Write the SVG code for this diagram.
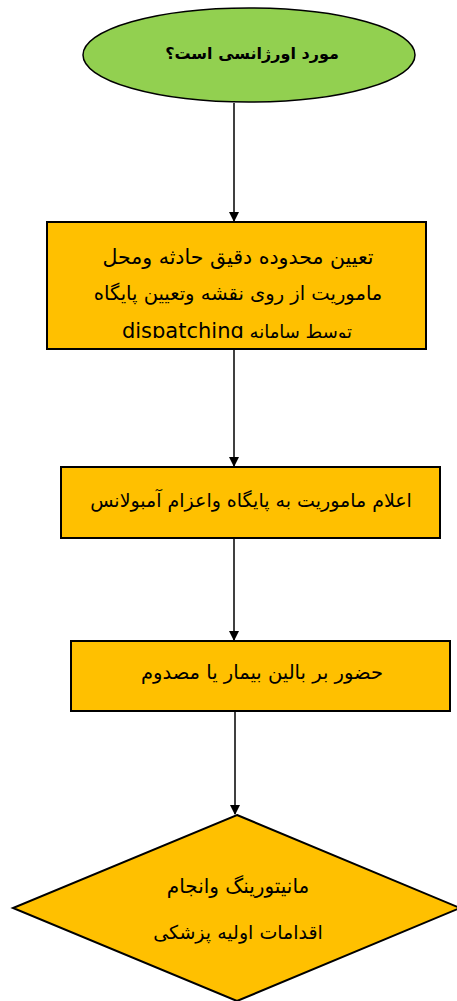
<svg xmlns="http://www.w3.org/2000/svg" width="457" height="1001" viewBox="0 0 457 1001">
<style>
.box{fill:#FFC000;stroke:#000;stroke-width:2}
.t{font-family:"DejaVu Sans","Noto Sans",sans-serif;font-size:19.5px;fill:#000;text-anchor:middle;direction:rtl}
.c{stroke:#000;stroke-width:1.5;fill:none}
</style>
<defs>
<marker id="ah" markerWidth="10" markerHeight="10" refX="9" refY="5" orient="auto" markerUnits="userSpaceOnUse">
<path d="M0,0 L10,5 L0,10 Z" fill="#000"/>
</marker>
<clipPath id="clip1"><rect x="47" y="222" width="379" height="116"/></clipPath>
</defs>
<g id="connectors">
<line class="c" x1="234" y1="103" x2="234" y2="221" marker-end="url(#ah)"/>
<line class="c" x1="234" y1="349" x2="234" y2="466" marker-end="url(#ah)"/>
<line class="c" x1="234" y1="538" x2="234" y2="640" marker-end="url(#ah)"/>
<line class="c" x1="235" y1="711" x2="235" y2="814" marker-end="url(#ah)"/>
</g>
<g id="n1">
<ellipse cx="249" cy="55" rx="166" ry="47" fill="#92D050" stroke="#000" stroke-width="1.5"/>
<text class="t" x="252" y="59" style="font-weight:bold;font-size:16px">مورد اورژانسی است؟</text>
</g>
<g id="n2">
<rect class="box" x="47" y="222" width="379" height="127"/>
<text class="t" x="238" y="264" style="font-size:20.5px">تعیین محدوده دقیق حادثه ومحل</text>
<text class="t" x="238" y="300">ماموریت از روی نقشه وتعیین پایگاه</text>
<text class="t" x="237" y="338" clip-path="url(#clip1)" style="font-size:18px">توسط سامانه <tspan style="font-size:21px">dispatching</tspan></text>
</g>
<g id="n3">
<rect class="box" x="61" y="467" width="379" height="71"/>
<text class="t" x="251" y="507" style="font-size:19px">اعلام ماموریت به پایگاه واعزام آمبولانس</text>
</g>
<g id="n4">
<rect class="box" x="71" y="641" width="379" height="70"/>
<text class="t" x="262" y="679">حضور بر بالین بیمار یا مصدوم</text>
</g>
<g id="n5">
<polygon class="box" points="237,815 460,908 237,1001 13,908"/>
<text class="t" x="238" y="893" style="font-size:20px">مانیتورینگ وانجام</text>
<text class="t" x="238" y="939" style="font-size:19px">اقدامات اولیه پزشکی</text>
</g>
</svg>
